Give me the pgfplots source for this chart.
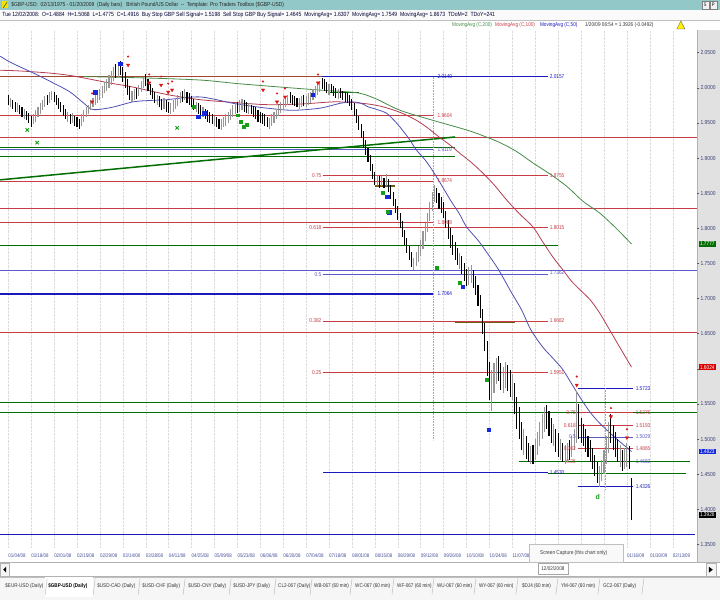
\documentclass[border=0pt]{standalone}
\usepackage{pgfplots}
\pgfplotsset{compat=1.18}
\usepackage{pgfplotstable}
\usepackage{fontspec}
\setmainfont{Liberation Sans}
\newfontfamily\cond[FakeStretch=0.85]{Liberation Sans}
\definecolor{teal1}{RGB}{146,200,200}
\definecolor{lred}{RGB}{200,60,70}
\definecolor{lblue}{RGB}{90,90,200}
\definecolor{dblue}{RGB}{25,25,190}
\definecolor{dgreen}{RGB}{0,110,0}
\definecolor{olive1}{RGB}{110,90,20}
\definecolor{brown1}{RGB}{160,70,50}
\definecolor{maA}{RGB}{80,80,180}
\definecolor{maB}{RGB}{180,60,80}
\definecolor{maC}{RGB}{70,140,70}
\definecolor{navy1}{RGB}{70,80,150}
\definecolor{band}{RGB}{225,225,225}
\definecolor{sred}{RGB}{220,20,20}
\definecolor{sblue}{RGB}{20,40,220}
\definecolor{sgreen}{RGB}{20,160,20}
\definecolor{barup}{RGB}{150,150,150}

\pgfplotstableread{
i lo hi up
0 1.975 1.990 0
1 1.972 1.986 1
2 1.970 1.982 0
3 1.966 1.980 0
4 1.965 1.978 1
5 1.962 1.976 0
6 1.958 1.972 0
7 1.955 1.970 1
8 1.954 1.967 0
9 1.950 1.964 0
10 1.944 1.960 0
11 1.948 1.962 1
12 1.952 1.968 1
13 1.958 1.972 1
14 1.962 1.978 1
15 1.968 1.982 1
16 1.972 1.988 1
17 1.976 1.990 0
18 1.978 1.994 1
19 1.982 1.996 1
20 1.980 1.994 0
21 1.976 1.990 0
22 1.970 1.985 0
23 1.965 1.980 0
24 1.960 1.975 0
25 1.955 1.970 0
26 1.952 1.966 1
27 1.948 1.962 0
28 1.950 1.964 1
29 1.946 1.960 0
30 1.944 1.958 0
31 1.942 1.956 0
32 1.946 1.962 1
33 1.952 1.968 1
34 1.958 1.972 1
35 1.962 1.976 1
36 1.968 1.982 1
37 1.972 1.986 1
38 1.976 1.990 1
39 1.978 1.994 1
40 1.982 1.998 1
41 1.986 2.002 1
42 1.992 2.008 1
43 1.996 2.012 1
44 2.000 2.018 1
45 2.004 2.024 1
46 2.010 2.030 1
47 2.014 2.034 0
48 2.016 2.036 1
49 2.018 2.038 0
50 2.008 2.030 0
51 2.000 2.022 0
52 1.990 2.012 0
53 1.982 2.002 0
54 1.980 1.996 1
55 1.982 1.998 1
56 1.984 2.000 0
57 1.988 2.004 1
58 1.994 2.010 1
59 2.000 2.016 1
60 2.002 2.020 0
61 1.996 2.012 0
62 1.990 2.006 0
63 1.984 2.000 0
64 1.978 1.994 0
65 1.975 1.990 1
66 1.972 1.988 0
67 1.968 1.984 0
68 1.970 1.986 1
69 1.966 1.982 0
70 1.964 1.980 0
71 1.962 1.978 1
72 1.966 1.982 1
73 1.970 1.986 1
74 1.974 1.990 1
75 1.978 1.994 1
76 1.980 1.996 0
77 1.982 1.998 1
78 1.978 1.994 0
79 1.975 1.992 0
80 1.972 1.988 0
81 1.968 1.984 0
82 1.965 1.980 1
83 1.962 1.978 0
84 1.960 1.976 0
85 1.958 1.972 1
86 1.956 1.970 0
87 1.952 1.968 0
88 1.950 1.965 0
89 1.948 1.962 0
90 1.945 1.960 1
91 1.944 1.958 0
92 1.942 1.956 0
93 1.940 1.955 1
94 1.944 1.958 1
95 1.946 1.962 1
96 1.950 1.966 1
97 1.954 1.970 1
98 1.958 1.975 1
99 1.962 1.978 1
100 1.964 1.980 0
101 1.966 1.982 1
102 1.968 1.984 1
103 1.966 1.982 0
104 1.964 1.980 0
105 1.962 1.978 1
106 1.962 1.976 0
107 1.958 1.974 0
108 1.955 1.972 0
109 1.952 1.968 0
110 1.950 1.966 0
111 1.948 1.964 0
112 1.946 1.962 0
113 1.944 1.958 0
114 1.942 1.957 1
115 1.946 1.962 1
116 1.950 1.966 1
117 1.955 1.970 1
118 1.960 1.975 1
119 1.964 1.980 1
120 1.968 1.984 1
121 1.972 1.988 1
122 1.975 1.990 1
123 1.978 1.994 0
124 1.976 1.990 0
125 1.974 1.988 0
126 1.972 1.986 0
127 1.970 1.985 1
128 1.972 1.988 1
129 1.974 1.990 0
130 1.972 1.988 1
131 1.975 1.992 1
132 1.978 1.994 1
133 1.982 1.998 1
134 1.986 2.002 1
135 1.990 2.006 1
136 1.994 2.010 1
137 1.998 2.014 0
138 1.996 2.012 0
139 1.992 2.008 0
140 1.990 2.006 1
141 1.992 2.006 0
142 1.988 2.002 0
143 1.986 2.000 0
144 1.984 1.998 1
145 1.985 2.000 0
146 1.982 1.996 0
147 1.980 1.994 0
148 1.978 1.992 0
149 1.974 1.990 0
150 1.968 1.984 0
151 1.960 1.978 0
152 1.950 1.970 0
153 1.940 1.960 0
154 1.928 1.948 0
155 1.915 1.938 0
156 1.905 1.925 0
157 1.895 1.915 0
158 1.882 1.905 0
159 1.870 1.892 0
160 1.862 1.880 0
161 1.860 1.876 1
162 1.858 1.874 0
163 1.860 1.875 1
164 1.858 1.872 0
165 1.860 1.878 1
166 1.852 1.870 0
167 1.842 1.862 0
168 1.832 1.852 0
169 1.822 1.842 0
170 1.812 1.832 0
171 1.800 1.822 0
172 1.788 1.810 0
173 1.776 1.798 0
174 1.765 1.786 0
175 1.755 1.775 0
176 1.745 1.766 0
177 1.740 1.758 1
178 1.746 1.766 1
179 1.752 1.775 1
180 1.760 1.784 1
181 1.770 1.796 1
182 1.782 1.808 1
183 1.795 1.822 1
184 1.810 1.838 1
185 1.825 1.852 1
186 1.838 1.862 1
187 1.836 1.858 0
188 1.828 1.850 0
189 1.822 1.845 0
190 1.815 1.838 0
191 1.800 1.825 0
192 1.785 1.812 0
193 1.772 1.800 0
194 1.762 1.790 0
195 1.755 1.780 0
196 1.748 1.772 0
197 1.742 1.765 1
198 1.735 1.760 0
199 1.725 1.750 0
200 1.718 1.742 0
201 1.720 1.745 1
202 1.722 1.748 1
203 1.715 1.740 0
204 1.705 1.732 0
205 1.690 1.720 0
206 1.672 1.705 0
207 1.650 1.685 0
208 1.625 1.665 0
209 1.590 1.640 0
210 1.555 1.610 0
211 1.540 1.598 1
212 1.565 1.608 1
213 1.578 1.615 1
214 1.582 1.618 0
215 1.570 1.608 0
216 1.565 1.602 1
217 1.572 1.610 1
218 1.568 1.605 0
219 1.560 1.598 0
220 1.555 1.592 1
221 1.535 1.580 0
222 1.515 1.560 0
223 1.500 1.545 0
224 1.485 1.525 0
225 1.478 1.515 1
226 1.472 1.505 0
227 1.468 1.495 0
228 1.465 1.490 1
229 1.465 1.492 0
230 1.470 1.500 1
231 1.478 1.510 1
232 1.490 1.525 1
233 1.500 1.535 1
234 1.510 1.545 1
235 1.515 1.548 0
236 1.505 1.540 0
237 1.495 1.530 0
238 1.490 1.522 1
239 1.482 1.515 0
240 1.475 1.508 0
241 1.470 1.500 1
242 1.468 1.495 0
243 1.465 1.492 1
244 1.468 1.495 1
245 1.470 1.498 0
246 1.475 1.505 1
247 1.485 1.515 1
248 1.495 1.568 1
249 1.500 1.550 0
250 1.495 1.530 0
251 1.490 1.522 0
252 1.482 1.515 0
253 1.475 1.505 0
254 1.468 1.498 0
255 1.458 1.488 0
256 1.448 1.478 0
257 1.438 1.468 0
258 1.432 1.462 1
259 1.440 1.470 1
260 1.450 1.485 1
261 1.465 1.505 1
262 1.480 1.525 1
263 1.495 1.535 0
264 1.485 1.520 0
265 1.475 1.510 0
266 1.468 1.500 0
267 1.460 1.492 1
268 1.455 1.485 0
269 1.458 1.488 1
270 1.460 1.495 1
271 1.458 1.490 0
272 1.385 1.445 0
}\bars

\pgfplotstableread{
i p
-3.5 2.045
0 2.038
5 2.030
11 2.021
19 2.008
27 1.994
33 1.978
37 1.969
45 1.972
54.5 1.980
62 1.982
69 1.983
77 1.986
84 1.987
91 1.983
98 1.978
106 1.974
113 1.971
124 1.968
136 1.971
145 1.978
150 1.980
154 1.978
157 1.973
161 1.969
165 1.964
168 1.955
171 1.944
175 1.927
178 1.912
182 1.897
185 1.883
189 1.862
193 1.840
197 1.820
200 1.802
205 1.783
209 1.765
214 1.741
219 1.712
224 1.684
228 1.656
233 1.632
238 1.614
242 1.599
246 1.578
250 1.557
254 1.538
258 1.523
262.5 1.509
267 1.496
271 1.485
272 1.4823
}\maFifty

\pgfplotstableread{
i p
-3.5 2.025
5 2.024
18 2.021
26 2.018
33 2.014
44 2.007
54.5 2.001
70 1.990
84 1.983
99 1.979
113 1.976
128 1.977
142 1.980
150 1.979
157 1.977
163.5 1.973
171 1.965
178 1.954
183 1.943
188 1.930
193 1.918
197 1.907
202 1.894
207 1.879
212 1.862
217.6 1.840
223 1.821
229 1.802
233 1.782
237.7 1.759
242 1.741
246 1.724
250 1.711
254 1.698
258 1.680
262 1.658
267 1.630
272 1.6024
}\maHundred

\pgfplotstableread{
i p
33 2.016
60 2.014
84 2.011
100 2.006
119 2.001
135 1.997
152 1.993
160 1.985
171 1.968
185 1.954
200 1.940
207 1.932
214.6 1.922
222 1.909
229 1.893
237 1.876
244 1.859
251 1.838
258 1.822
265 1.801
272 1.7777
}\maTwoHundred

\newcommand\lbl[4]{\node[anchor=#2, text=#1, font=\cond\fontsize{5.6}{6}\selectfont, inner sep=0.6pt] at (axis cs:#3) {#4};}
\newcommand\hl[4]{\addplot[#1] coordinates {(#2,#4) (#3,#4)};}

\begin{document}
\begin{tikzpicture}
\begin{scope}[x=1pt,y=1pt]
\path[use as bounding box] (0,0) rectangle (720,600);
\fill[white] (0,0) rectangle (720,600);
% right band
\fill[band] (697,37) rectangle (720,570);
\draw[gray!60, line width=0.4pt] (697,37) -- (697,570);
% header
\fill[teal1] (0,590) rectangle (720,600);
\fill[yellow!80!orange] (2,591.5) rectangle (8,598.5);
\draw[green!40!black, line width=0.5pt] (3,592) -- (7,598);
\node[anchor=west, inner sep=0pt, font=\cond\fontsize{5.8}{6}\selectfont, text=black!85] at (11,595)
 {\$GBP-USD:\ \ 02/13/1975 - 01/20/2009\ \ (Daily bars)\ \ \ British Pound/US Dollar\ \ -{}-\ \ Template: Pro Traders Toolbox (\$GBP-USD)};
\draw[gray, fill=white!90!gray] (702,591) rectangle (709,599);
\draw[gray, fill=white!90!gray] (710,591) rectangle (717,599);
\node[font=\cond\fontsize{5}{5}\selectfont, inner sep=0pt] at (705.5,595) {5};
\node[font=\cond\fontsize{5}{5}\selectfont, inner sep=0pt] at (713.5,595) {P};
\fill[white!96!gray] (0,580) rectangle (720,590);
\draw[gray!50, line width=0.3pt] (0,580) -- (720,580);
\node[anchor=west, inner sep=0pt, font=\cond\fontsize{6}{6}\selectfont, text=black!80!blue] at (2,585)
 {Tue 12/02/2008:\ \ O=1.4884\ \ H=1.5068\ \ L=1.4775\ \ C=1.4916\ \ Buy Stop GBP Sell Signal= 1.5198\ \ Sell Stop GBP Buy Signal= 1.4645\ \ MovingAvg= 1.6307\ \ MovingAvg= 1.7549\ \ MovingAvg= 1.8673\ \ TDoM=2\ \ TDoY=241};
\node[anchor=west, inner sep=0pt, font=\cond\fontsize{5.5}{6}\selectfont, text=maC] at (452,575) {MovingAvg (C,200)};
\node[anchor=west, inner sep=0pt, font=\cond\fontsize{5.5}{6}\selectfont, text=lred] at (495,575) {MovingAvg (C,100)};
\node[anchor=west, inner sep=0pt, font=\cond\fontsize{5.5}{6}\selectfont, text=dblue] at (540,575) {MovingAvg (C,50)};
\node[anchor=west, inner sep=0pt, font=\cond\fontsize{5.5}{6}\selectfont, text=black!80] at (585,575) {1/20/09 06:54 = 1.3926 (-0.0492)};
\fill[yellow, draw=black!70, line width=0.3pt] (677,571) -- (685,571) -- (681,579) -- cycle;
\end{scope}

\begin{axis}[
  at={(0pt,52pt)}, anchor=south west,
  width=697pt, height=518pt, scale only axis,
  xmin=-3.5, xmax=300.5, ymin=1.3454, ymax=2.0823,
  clip mode=individual,
  axis line style={draw=none},
  xtick={0,10,...,290},
  xticklabels={01/04/08,01/18/08,02/01/08,02/15/08,02/29/08,03/14/08,03/28/08,04/11/08,04/25/08,05/09/08,05/23/08,06/06/08,06/20/08,07/04/08,07/18/08,08/01/08,08/15/08,08/29/08,09/12/08,09/26/08,10/10/08,10/24/08,11/07/08,{},{},{},{},01/16/09,01/30/09,02/13/09},
  xticklabel style={anchor=north west, inner xsep=0pt, inner ysep=0pt, yshift=-3pt, font=\cond\fontsize{5.2}{6}\selectfont, text=navy1},
  xtick style={draw=none},
  xmajorgrids, major grid style={densely dotted, gray!28, line width=0.4pt},
  ytick={1.35,1.40,1.45,1.50,1.55,1.65,1.70,1.75,1.80,1.85,1.90,1.95,2.00,2.05},
  extra y ticks={1.60}, extra y tick labels={},
  extra y tick style={ytick style={draw=gray!70!black, line width=0.4pt}},
  ytick pos=right, yticklabel pos=right,
  ytick style={draw=gray!70!black, line width=0.4pt},
  major tick length=2.5pt, tick align=outside,
  yticklabel style={font=\cond\fontsize{5.8}{6}\selectfont, text=navy1!80!black, inner xsep=1pt},
  /pgf/number format/fixed, /pgf/number format/fixed zerofill, /pgf/number format/precision=4,
  /pgf/number format/assume math mode=true,
]
% horizontal levels
\hl{draw=brown1, line width=1pt}{-3.5}{137}{2.0155}
\hl{draw=dblue, line width=1.4pt}{137}{235.5}{2.0157}
\hl{draw=lred, line width=0.8pt}{-3.5}{185.3}{1.9604}
\hl{draw=lred, line width=0.8pt}{-3.5}{300.5}{1.9287}
\hl{draw=dgreen, line width=1.1pt}{-3.5}{195}{1.9145}
\hl{draw=lblue, line width=0.9pt}{-3.5}{185.3}{1.9119}
\hl{draw=dgreen, line width=1.1pt}{-3.5}{195}{1.9017}
\addplot[draw=dgreen, line width=1.5pt] coordinates {(-3.5,1.869) (195,1.930)};
\hl{draw=lred, line width=0.8pt}{137.4}{235.5}{1.8755}
\hl{draw=lred, line width=0.8pt}{-3.5}{185.3}{1.8674}
\hl{draw=lred, line width=0.8pt}{-3.5}{300.5}{1.8290}
\hl{draw=lred, line width=0.8pt}{-3.5}{185.3}{1.8088}
\hl{draw=lred, line width=0.8pt}{137.4}{235.5}{1.8015}
\hl{draw=dgreen, line width=1.3pt}{-3.5}{240}{1.7760}
\hl{draw=lblue, line width=0.9pt}{-3.5}{300.5}{1.7395}
\hl{draw=lblue, line width=0.9pt}{137.4}{235.5}{1.7345}
\hl{draw=dblue, line width=1.4pt}{-3.5}{185.3}{1.7064}
\hl{draw=lred, line width=0.8pt}{137.4}{235.5}{1.6682}
\hl{draw=lred, line width=0.8pt}{-3.5}{300.5}{1.6513}
\hl{draw=olive1, line width=1.5pt}{195}{221}{1.6660}
\hl{draw=olive1, line width=1.5pt}{160}{169}{1.8600}
\hl{draw=dgreen, line width=1.5pt}{140}{153}{1.9930}
\hl{draw=lred, line width=0.8pt}{137.4}{235.5}{1.5951}
\hl{draw=dgreen, line width=1.1pt}{-3.5}{300.5}{1.5518}
\hl{draw=dgreen, line width=1.1pt}{-3.5}{300.5}{1.5375}
\hl{draw=dblue, line width=1.1pt}{248.6}{272.6}{1.5723}
\hl{draw=lred, line width=0.8pt}{248.6}{272.6}{1.5376}
\hl{draw=lred, line width=0.8pt}{248.6}{272.6}{1.5193}
\hl{draw=lblue, line width=0.9pt}{248.6}{272.6}{1.5029}
\hl{draw=lred, line width=0.8pt}{248.6}{272.6}{1.4865}
\hl{draw=dgreen, line width=1.1pt}{223}{297.4}{1.4682}
\hl{draw=dblue, line width=1.1pt}{137.4}{235.5}{1.4530}
\hl{draw=dgreen, line width=1.1pt}{235.5}{295.7}{1.4510}
\hl{draw=dblue, line width=1.1pt}{248.6}{272.6}{1.4326}
\hl{draw=dblue, line width=1.4pt}{-3.5}{299.5}{1.3640}
% dotted verticals
\addplot[draw=gray!70, densely dotted, line width=0.6pt] coordinates {(185.3,2.0157) (185.3,1.499)};
\addplot[draw=gray!70, densely dotted, line width=0.6pt] coordinates {(260.4,1.5723) (260.4,1.428)};
% moving averages
\addplot[draw=maC, line width=0.8pt, smooth] table[x=i, y=p] {\maTwoHundred};
\addplot[draw=maB, line width=0.8pt, smooth] table[x=i, y=p] {\maHundred};
\addplot[draw=maA, line width=0.8pt, smooth] table[x=i, y=p] {\maFifty};
% price bars (high-low segments)
\addplot[draw=barup, line width=1.1pt, mark=none, restrict expr to domain={\thisrow{up}}{0.5:1.5},
  quiver={u=0, v=\thisrow{hi}-\thisrow{lo}}]
  table[x=i, y=lo] {\bars};
\addplot[draw=black, line width=1.1pt, mark=none, restrict expr to domain={\thisrow{up}}{-0.5:0.5},
  quiver={u=0, v=\thisrow{hi}-\thisrow{lo}}]
  table[x=i, y=lo] {\bars};
% signals
\addplot[only marks, mark=triangle*, mark size=1.9pt, mark options={rotate=180, fill=sred, draw=sred}]
 coordinates {(36.6,1.980) (52.3,2.0325) (61.5,2.007) (66.7,2.004) (69.8,1.994) (71.5,1.997) (111.2,1.997) (117.3,1.980) (120.8,1.987) (135.2,2.007) (248.1,1.577) (263.0,1.532) (270.0,1.502)};
\addplot[only marks, mark=*, mark size=0.8pt, mark options={fill=sred, draw=sred}]
 coordinates {(36.6,1.992) (52.3,2.0445) (61.5,2.019) (66.7,2.016) (69.8,2.006) (71.5,2.009) (111.2,2.009) (117.3,1.992) (120.8,1.999) (135.2,2.019) (248.1,1.589) (263.0,1.544) (270.0,1.514)};
\addplot[only marks, mark=square*, mark size=1.7pt, mark options={fill=sblue, draw=sblue}]
 coordinates {(37.9,1.994) (48.8,2.034) (82.9,1.959) (85.5,1.964) (133,1.990) (165.3,1.845) (166.2,1.823) (209.8,1.513) (198.4,1.717)};
\addplot[only marks, mark=x, mark size=2.4pt, mark options={draw=sgreen, line width=0.9pt}]
 coordinates {(8.3,1.940) (12.6,1.922) (73.7,1.943)};
\addplot[only marks, mark=square*, mark size=1.5pt, mark options={fill=sgreen, draw=sgreen}]
 coordinates {(81.1,1.973) (100.3,1.961) (101.5,1.952) (102.7,1.944) (104.2,1.948) (163.5,1.850) (165.7,1.823) (187,1.744) (197,1.722) (208.9,1.584)};
\addplot[only marks, mark=none, point meta=explicit symbolic, nodes near coords,
  nodes near coords style={text=sgreen, font=\bfseries\fontsize{7}{7}\selectfont, anchor=center}]
 coordinates {(257.3,1.417) [d]};
% labels
\lbl{dblue}{west}{187,2.0157}{2.0140}
\lbl{dblue}{west}{236,2.0157}{2.0157}
\lbl{lred}{west}{187,1.9604}{1.9604}
\lbl{lblue}{west}{187,1.9119}{1.9119}
\lbl{lred}{east}{137,1.8755}{0.75}
\lbl{lred}{west}{236,1.8755}{1.8755}
\lbl{lred}{west}{187,1.8674}{1.8674}
\lbl{lred}{west}{187,1.8088}{1.8088}
\lbl{lred}{east}{137,1.8015}{0.618}
\lbl{lred}{west}{236,1.8015}{1.8015}
\lbl{lblue}{east}{137,1.7345}{0.5}
\lbl{lblue}{west}{236,1.7375}{1.7362}
\lbl{dblue}{west}{187,1.7064}{1.7064}
\lbl{lred}{east}{137,1.6682}{0.382}
\lbl{lred}{west}{236,1.6682}{1.6682}
\lbl{lred}{east}{137,1.5951}{0.25}
\lbl{lred}{west}{236,1.5951}{1.5951}
\lbl{dblue}{west}{236,1.4530}{1.4530}
\lbl{dblue}{west}{273.5,1.5723}{1.5723}
\lbl{lred}{east}{248,1.5376}{0.75}
\lbl{lred}{west}{273.5,1.5376}{1.5376}
\lbl{lred}{east}{248,1.5193}{0.618}
\lbl{lred}{west}{273.5,1.5193}{1.5193}
\lbl{lblue}{east}{248,1.5029}{0.5}
\lbl{lblue}{west}{273.5,1.5029}{1.5029}
\lbl{lred}{east}{248,1.4865}{0.382}
\lbl{lred}{west}{273.5,1.4865}{1.4865}
\lbl{lred}{east}{248,1.4682}{0.25}
\lbl{lblue}{west}{273.5,1.4682}{1.4682}
\lbl{dblue}{west}{273.5,1.4326}{1.4326}
% value boxes on the price scale
\node[anchor=west, fill=dgreen, text=white, inner xsep=1pt, inner ysep=1pt, font=\cond\fontsize{5.6}{6}\selectfont, xshift=2pt] at (axis cs:300.5,1.7777) {1.7777};
\node[anchor=west, fill=red!85!black, text=white, inner xsep=1pt, inner ysep=1pt, font=\cond\fontsize{5.6}{6}\selectfont, xshift=2pt] at (axis cs:300.5,1.6024) {1.6024};
\node[anchor=west, fill=sblue, text=white, inner xsep=1pt, inner ysep=1pt, font=\cond\fontsize{5.6}{6}\selectfont, xshift=2pt] at (axis cs:300.5,1.4823) {1.4823};
\node[anchor=west, fill=black, text=white, inner xsep=1pt, inner ysep=1pt, font=\cond\fontsize{5.6}{6}\selectfont, xshift=2pt] at (axis cs:300.5,1.3926) {1.3926};
\end{axis}

\begin{scope}[x=1pt,y=1pt]
% scrollbar
\fill[white] (0,23) rectangle (720,37);
\draw[gray!60, line width=0.4pt] (0,23) rectangle (720,37);
\draw[gray!60, fill=white!92!gray] (0.5,23.5) rectangle (9,36.5);
\fill[black] (3,30) -- (6,33) -- (6,27) -- cycle;
\draw[gray!60, fill=white!92!gray] (706,23.5) rectangle (716,36.5);
\fill[black] (713,30) -- (709,33) -- (709,27) -- cycle;
% screen capture popup
\fill[white!95!gray, draw=gray!50] (529,37) rectangle (623,55);
\node[anchor=west, inner sep=0pt, font=\cond\fontsize{5.6}{6}\selectfont, text=black!75] at (540,47) {Screen Capture (this chart only)};
\fill[white, draw=gray!70] (538,25.5) rectangle (568,36);
\node[inner sep=0pt, font=\cond\fontsize{5.4}{6}\selectfont, text=black!80] at (553,30.7) {12/02/2008};
% tabs
\fill[white!93!gray] (0,0) rectangle (720,23);
\draw[gray!50, line width=0.4pt] (0,22.5) -- (720,22.5);
\fill[white] (45,3) rectangle (93,22.5);
\foreach \sx in {45,93,138,183,229,274,310,350,392,432,474,516,556,598,642}
  \draw[gray!60, line width=0.4pt] (\sx,5) -- (\sx+2,21);
\foreach \tx/\tt in {5/{\$EUR-USD (Daily)},97/{\$USD-CAD (Daily)},142/{\$USD-CHF (Daily)},188/{\$USD-CNY (Daily)},233/{\$USD-JPY (Daily)},278/{CL2-067 (Daily)},314/{WB-067 (60 min)},355/{WC-067 (60 min)},397/{WF-067 (60 min)},437/{WU-067 (60 min)},479/{WY-067 (60 min)},522/{\$DJ4 (60 min)},561/{YM-067 (60 min)},603/{GC2-067 (Daily)}}
  \node[anchor=west, inner sep=0pt, font=\cond\fontsize{5.4}{6}\selectfont, text=black!80] at (\tx,14) {\tt};
\node[anchor=west, inner sep=0pt, font=\cond\bfseries\fontsize{5.4}{6}\selectfont, text=black] at (48,14) {\$GBP-USD (Daily)};
\end{scope}
\end{tikzpicture}
\end{document}
